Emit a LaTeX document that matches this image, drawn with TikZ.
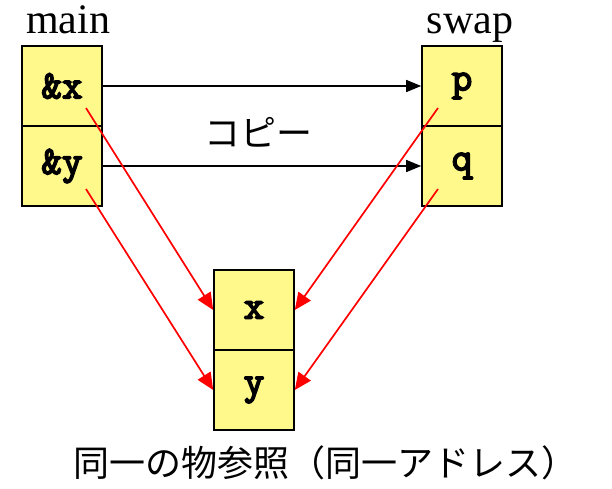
\documentclass[tikz,border=0pt]{standalone}
\usepackage{fontspec}
\setmainfont{Liberation Serif}
\setmonofont{Latin Modern Mono}[AutoFakeBold=4]
\newfontfamily\jpfont{Noto Sans CJK JP}
\usetikzlibrary{arrows.meta}

\begin{document}
\begin{tikzpicture}[x=1pt, y=-1pt]
				\tikzstyle{every node}=[inner sep=1pt, align=center]
				\tikzstyle{cell}=[draw, line width=1.6pt, fill=yellow!45, minimum width=80pt, minimum height=80pt, font=\fontsize{40}{40}\selectfont\ttfamily\bfseries]
				\tikzstyle{copyarrow}=[-{Triangle[length=15pt, width=12pt]}, line width=1.4pt]
				\tikzstyle{refarrow}=[red, -{Triangle[length=17pt, width=15pt]}, line width=1.7pt]
				\useasboundingbox (0, 0) rectangle (612, 488);
				\node (main) [anchor=base, font=\fontsize{42}{42}\selectfont] at (68, 33) {main};
				\node (swap) [anchor=base, font=\fontsize{42}{42}\selectfont] at (470, 33) {swap};
				\node (ax) [cell] at (62, 86) {\&x};
				\node (ay) [cell] at (62, 166) {\&y};
				\node (p) [cell] at (462, 86) {p};
				\node (q) [cell] at (462, 166) {q};
				\node (x) [cell] at (254, 310) {x};
				\node (y) [cell] at (254, 390) {y};
				\coordinate (axs) at (86, 108);
				\coordinate (ays) at (86, 189);
				\coordinate (ps) at (438, 108);
				\coordinate (qs) at (438, 189);
				\draw [copyarrow] (ax) -- (p);
				\draw [copyarrow] (ay) -- (q);
				\node (copy) [font=\fontsize{36}{36}\selectfont\jpfont] at (258, 132) {コピー};
				\draw [refarrow] (axs) -- (x.west);
				\draw [refarrow] (ays) -- (y.west);
				\draw [refarrow] (ps) -- (x.east);
				\draw [refarrow] (qs) -- (y.east);
				\node (note) [font=\fontsize{36}{36}\selectfont\jpfont] at (325, 463) {同一の物参照（同一アドレス）};
		\end{tikzpicture}
\end{document}
